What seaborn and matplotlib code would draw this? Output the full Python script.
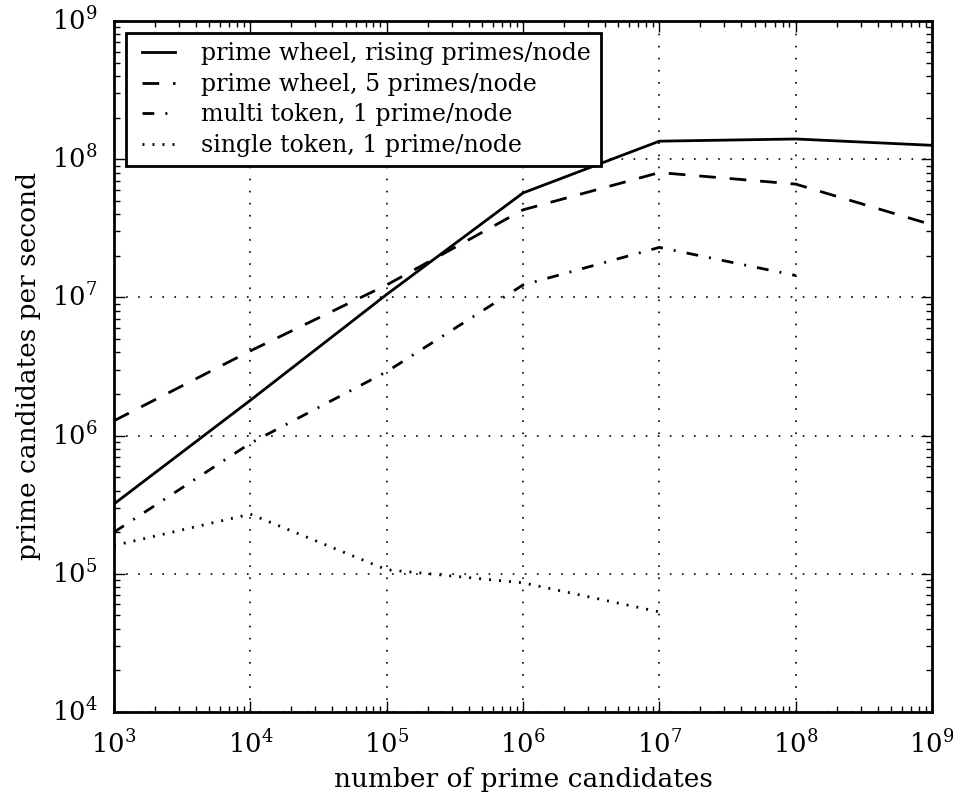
import pandas as pd
import numpy as np
import matplotlib
matplotlib.use('Agg')
import matplotlib.pyplot as plt
import seaborn as sns

# values (log-log)
n_candidates = [1e3, 1e4, 1e5, 1e6, 1e7, 1e8, 1e9]
wheel_rising = [3.2e5, 1.8e6, 1.05e7, 5.7e7, 1.35e8, 1.40e8, 1.26e8]
wheel_5 = [1.28e6, 4.1e6, 1.23e7, 4.3e7, 8.0e7, 6.6e7, 3.35e7]
multi_token = [2.0e5, 8.8e5, 2.9e6, 1.23e7, 2.3e7, 1.44e7]
single_token = [1.6e5, 2.7e5, 1.07e5, 8.6e4, 5.3e4]

labels = ['prime wheel, rising primes/node', 'prime wheel, 5 primes/node',
          'multi token, 1 prime/node', 'single token, 1 prime/node']
series = [wheel_rising, wheel_5, multi_token, single_token]
styles = ['-', (0, (12, 10)), (0, (8.5, 8, 1.4, 8)), (0, (1.4, 5.8))]

plt.style.use('classic')
plt.rcParams['font.family'] = ['DejaVu Serif']
plt.rcParams['lines.scale_dashes'] = False
plt.rcParams['axes.linewidth'] = 2

fig = plt.figure(figsize=(9.54, 7.98), dpi=100)
ax = fig.add_axes([0.1195, 0.1078, 0.8575, 0.8659])

for lab, vals, ls in zip(labels, series, styles):
    df = pd.DataFrame({'n': n_candidates[:len(vals)], 'rate': vals})
    sns.lineplot(data=df, x='n', y='rate', ax=ax, color='black', lw=2,
                 linestyle=ls, label=lab)

ax.set_xscale('log')
ax.set_yscale('log')
ax.set_xlim(1e3, 1e9)
ax.set_ylim(1e4, 1e9)
ax.grid(True, which='major', color='black', lw=1.2, linestyle=(0, (1.2, 7.5)))
ax.tick_params(which='major', length=8, width=1, labelsize=18.5)
ax.tick_params(axis='x', which='major', pad=13)
ax.tick_params(axis='y', which='major', pad=12)
ax.tick_params(which='minor', length=4, width=1)
ax.set_xlabel('number of prime candidates', fontsize=19, labelpad=6)
ax.set_ylabel('prime candidates per second', fontsize=19, labelpad=8)

leg = ax.legend(loc='upper left', fontsize=17, fancybox=False, borderaxespad=0.5,
                labelspacing=0.32, handlelength=2.0, handletextpad=0.8)
leg.get_frame().set_linewidth(2)
leg.get_frame().set_edgecolor('black')

fig.savefig('out.png', dpi=100)
